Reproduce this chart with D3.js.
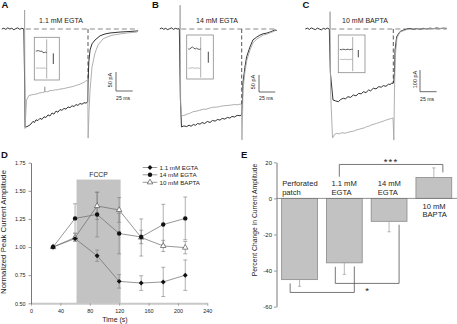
<!DOCTYPE html>
<html><head><meta charset="utf-8">
<script src="https://cdn.jsdelivr.net/npm/d3@7"></script>
<style>
html,body{margin:0;padding:0;background:#fff;}
svg{display:block;font-family:Arial,"Liberation Sans",Helvetica,sans-serif;}
</style></head><body>
<svg id="fig" width="457" height="324"></svg>
<script>
// ================= DATA =================
// Panels A-C: whole-cell current traces, [time (ms), current (pA)]
const panelLetters = ["A","B","C","D","E"];
const traceTitles = ["1.1 mM EGTA","14 mM EGTA","10 mM BAPTA"];
const pulseMs = 95;
const scaleBarMs = 25;
const scaleBarPA = [50, 50, 100];

const traceA_black = [[-34,0],[-31,2],[-28,-1],[-25,3],[-22,0],[-19,2],[-16,-2],[-13,1],[-10,3],[-7,-1],[-4,2],[-1,0],[0.3,-150],[0.8,-258],[3.7,-257],[6.7,-254],[9.7,-250],[12.7,-243],[15,-246],[17.2,-239],[20,-241],[23.2,-235],[26,-238],[29.2,-231],[32,-233],[35.2,-226],[38,-229],[41.2,-221],[44,-224],[47.2,-216],[50,-219],[53.1,-212],[56,-214],[59.1,-209],[62,-211],[65.1,-205],[68,-207],[71.1,-202],[74,-204],[77.1,-199],[80,-201],[83.1,-196],[86,-198],[89.1,-194],[92,-195],[94.5,-192],[95.3,-130],[96.3,-85],[98.1,-55],[101,-39],[105.5,-29],[113,-18],[120.5,-13],[128,-10.5],[143,-8],[158,-6.5],[170,-5]];
const traceA_gray = [[0,0],[0.15,50],[0.8,-262],[2,-220],[3,-187],[6.7,-175],[11.2,-173],[15,-172],[20,-170],[23.2,-168],[27,-167],[29.8,-166],[30.3,-152],[30.8,-165],[35,-165],[38.2,-162],[42,-162],[46,-160],[50,-160],[53.1,-158],[58,-157],[63,-155],[68.1,-153],[73,-151],[78,-148],[83.1,-145],[88,-141],[91,-138],[94.5,-134],[95.2,-287],[96.6,-213],[98.1,-160],[101,-100],[105.5,-63],[110,-42],[117.5,-26],[125,-20],[132.5,-16],[143,-13],[153.4,-10.5],[168.4,-8]];

const traceB_black = [[-31,0],[-28,3],[-25,-1],[-22,2],[-19,-2],[-16,1],[-13,3],[-10,-1],[-7,2],[-4,0],[-1,1],[0.5,-200],[2.3,-288],[6,-285],[10.3,-287],[14,-283],[17,-286],[20.5,-281],[24,-283],[27,-278],[30.8,-280],[34,-275],[38,-278],[42,-272],[46.2,-275],[50,-269],[54,-271],[58,-266],[61.5,-268],[65,-263],[69,-265],[73,-260],[76.9,-262],[80,-257],[84,-259],[88,-254],[92.3,-255],[94.6,-253],[95.5,-235],[96.5,-190],[96.9,-159],[100,-112],[102.6,-82],[107.7,-53],[112.3,-32],[118,-24],[123,-18],[128,-14],[133.8,-12],[140,-8],[146,-3],[149,-4]];
const traceB_gray = [[0,0],[0.15,70],[1,-220],[2,-253],[5,-255],[7.7,-253],[11,-250],[14,-249],[17,-246],[20.5,-243],[25,-242],[30,-239],[35.8,-236],[40,-236],[45,-233],[51.2,-230],[56,-230],[61,-228],[66.6,-226],[72,-225],[78,-224],[84,-222],[88,-223],[92.3,-221],[94.6,-221],[95.4,-326],[96.5,-230],[96.9,-179],[100,-126],[103,-91],[107.7,-62],[112.3,-41],[118,-30],[123,-24],[128,-18],[133.8,-15],[140,-10],[146,-6]];

const traceC_black = [[-37,0],[-34,4],[-31,-2],[-28,5],[-25,1],[-22,-3],[-19,4],[-16,0],[-13,-4],[-10,3],[-7,-1],[-4,4],[-1,0],[0.5,-200],[4.5,-327],[8,-331],[12.5,-335],[16,-325],[20,-319],[23,-322],[27,-312],[31,-315],[35,-304],[39,-308],[43,-297],[47,-299],[50,-289],[54,-293],[58,-281],[61,-285],[65,-273],[69,-276],[73,-266],[77,-268],[80,-261],[84,-264],[88,-254],[90,-256],[92.6,-250],[94.6,-250],[95.8,-240],[96.8,-200],[97.6,-97],[100.1,-35],[105,-12],[110,-5],[115,-1],[120,3],[125,-2],[130,2],[135,-1],[140,3],[145,0],[150,4],[155,1],[160,5],[165,2],[170,4],[175,3]];
const traceC_gray = [[0,0],[0.1,80],[1,-300],[3.8,-502],[7,-485],[10,-481],[14,-483],[18,-478],[22,-480],[25,-478],[29,-474],[33,-472],[37,-469],[40,-465],[44,-462],[48,-458],[52,-455],[55,-450],[59,-447],[63,-441],[67,-438],[70,-435],[74,-431],[78,-427],[82,-422],[85,-419],[89,-415],[92.6,-412],[94.6,-410],[95.8,-512],[96.8,-281],[98,-120],[100.6,-41],[105,-14],[115.6,-2],[125,0],[140,1],[160,2],[175,2]];

// inset mini traces (relative deflections)
const insetBlack = [[0,0,-0.4,0,0.4,0,1.6,1.6,1.2,1.6],[0,0,-1,-2,-1,0,-0.8,0,0.4,0],[0,0.5,0,0,0.5,0,0,0.5,0,0]];
const insetGray  = [[0,0,0.3,0,0,0.3,0,0,0.3,0],[0,0.3,0,-0.3,0,0.3,0,0,0.3,0],[0,0,0.4,0,0,0.4,0,0.3,0,0]];

// Panel D: normalized peak current amplitude vs time
const dTimes = [30,60,90,120,150,180,210];
const dEGTA11 = [1.00,1.075,0.923,0.695,0.68,0.69,0.75];
const dEGTA11Err = [0,0.02,0.05,0.06,0.065,0.13,0.135];
const dEGTA14 = [1.00,1.255,1.29,1.12,1.09,1.20,1.255];
const dEGTA14Err = [0,0.13,0.20,0.18,0.06,0.18,0.19];
const dBAPTA = [1.00,1.085,1.365,1.33,1.085,1.01,0.995];
const dBAPTAErr = [0,0.035,0.12,0.11,0.165,0.05,0.055];
const dLegend = ["1.1 mM EGTA","14 mM EGTA","10 mM BAPTA"];
const dYTicks = [0.50,0.75,1.00,1.25,1.50,1.75];
const dXTicks = [0,40,80,120,160,200,240];
const fccpWindow = [62,122];
const fccpTop = 1.6;

// Panel E: percent change in current amplitude
const eCategories = ["Perforated patch","1.1 mM EGTA","14 mM EGTA","10 mM BAPTA"];
const eLabelLines = [["Perforated","patch"],["1.1 mM","EGTA"],["14 mM","EGTA"],["10 mM","BAPTA"]];
const eValues = [-45, -35.7, -12.7, 11.6];
const eErrors = [3.7, 6.4, 5.8, 5.3];
const eYTicks = [20,0,-20,-40,-60];
const eBrackets = [
  {from:1,to:3,level:18.8,legFrom:12,legTo:14.4,label:"***"},
  {from:0,to:1,level:-52.1,legFrom:-47.1,legTo:-37.7,label:""},
  {from:1,to:2,level:-47.1,legFrom:-37.9,legTo:-14.6,label:"*"}
];

// ================= LAYOUT =================
const svg = d3.select("#fig");
const BLACK = "#1c1c1c", GRAY = "#a6a6a6", TXT = "#222";

const traceLayout = [
 {x0:24.5,x1:88,base:29,ppa:0.38,tEnd:170,letterX:1.5,titleX:61,sb:{x:116,y:91},paX:111.6,paY:80,msX:116,msY:100.3,
  inset:{x:34.3,y:37.3,w:25,h:42.7,vx:46.7,by:51,gy:68,bx:53.3,b0:53.3,b1:64}},
 {x0:180,x1:241.7,base:29,ppa:0.34,tEnd:149,letterX:152,titleX:217,sb:{x:259,y:92},paX:255.3,paY:82,msX:259,msY:100.3,
  inset:{x:186.7,y:35,w:26.6,h:44,vx:200.7,by:49,gy:68,bx:208.3,b0:51.7,b1:62.7}},
 {x0:330,x1:393.3,base:29,ppa:0.217,tEnd:175,letterX:302.5,titleX:365,sb:{x:420,y:91.7},paX:416.5,paY:79.5,msX:420,msY:101,
  inset:{x:338.3,y:35,w:26.7,h:37.7,vx:352.7,by:49.3,gy:59.3,bx:358.3,b0:50,b1:57.3}}
];
const traces = [[traceA_black,traceA_gray],[traceB_black,traceB_gray],[traceC_black,traceC_gray]];

function letter(t,x,y){
  svg.append("text").attr("x",x).attr("y",y).attr("font-size",9.5).attr("font-weight","bold").attr("fill","#111").text(t);
}

traceLayout.forEach((L,i)=>{
  const g = svg.append("g");
  const xs = d3.scaleLinear().domain([0,pulseMs]).range([L.x0,L.x1]);
  const ys = d3.scaleLinear().domain([0,-100]).range([L.base,L.base+100*L.ppa]);
  const line = d3.line().x(d=>xs(d[0])).y(d=>ys(d[1]));
  const [blk,gry] = traces[i];
  g.append("line").attr("x1",xs(2)).attr("x2",xs(L.tEnd)).attr("y1",ys(0)).attr("y2",ys(0))
    .attr("stroke","#8a8a8a").attr("stroke-width",1.1).attr("stroke-dasharray","5,3");
  const lastIn = tr => { const f = tr.filter(d=>d[0]<=pulseMs); return f[f.length-1][1]; };
  const endVal = d3.max([blk,gry], lastIn);
  g.append("line").attr("x1",xs(pulseMs)).attr("x2",xs(pulseMs)).attr("y1",ys(0)).attr("y2",ys(endVal))
    .attr("stroke","#555").attr("stroke-width",1).attr("stroke-dasharray","4,2.5");
  g.append("path").attr("d",line(blk)).attr("fill","none").attr("stroke",BLACK).attr("stroke-width",0.9);
  g.append("path").attr("d",line(gry)).attr("fill","none").attr("stroke",GRAY).attr("stroke-width",0.9);
  const I = L.inset;
  g.append("rect").attr("x",I.x).attr("y",I.y).attr("width",I.w).attr("height",I.h)
    .attr("fill","#fff").attr("stroke","#8a8a8a").attr("stroke-width",0.8);
  g.append("line").attr("x1",I.vx).attr("x2",I.vx).attr("y1",I.y+2).attr("y2",I.y+I.h-1.5).attr("stroke","#999").attr("stroke-width",0.8);
  const ix = d3.scaleLinear().domain([0,insetBlack[i].length-1]).range([I.x+1.5,I.vx]);
  g.append("path").attr("d",d3.line().x((d,k)=>ix(k)).y(d=>I.by+d)(insetBlack[i])).attr("fill","none").attr("stroke","#333").attr("stroke-width",0.8);
  g.append("path").attr("d",d3.line().x((d,k)=>ix(k)).y(d=>I.gy+d)(insetGray[i])).attr("fill","none").attr("stroke","#aaa").attr("stroke-width",0.8);
  g.append("line").attr("x1",I.bx).attr("x2",I.bx).attr("y1",I.b0).attr("y2",I.b1).attr("stroke","#333").attr("stroke-width",0.9);
  const msLen = xs(scaleBarMs)-xs(0), paLen = ys(0)-ys(scaleBarPA[i]);
  g.append("path").attr("d",`M${L.sb.x},${L.sb.y-paLen}V${L.sb.y}H${L.sb.x+msLen}`)
    .attr("fill","none").attr("stroke","#444").attr("stroke-width",0.8);
  g.append("text").attr("transform",`translate(${L.paX},${L.paY}) rotate(-90)`).attr("text-anchor","middle")
    .attr("font-size",5.5).attr("fill",TXT).text(scaleBarPA[i]+" pA");
  g.append("text").attr("x",L.msX).attr("y",L.msY).attr("font-size",5.2).attr("fill",TXT).text(scaleBarMs+" ms");
  g.append("text").attr("x",L.titleX).attr("y",22.5).attr("text-anchor","middle").attr("font-size",7).attr("fill",TXT).text(traceTitles[i]);
  letter(panelLetters[i],L.letterX,8);
});

// ================= PANEL D =================
{
  const g = svg.append("g");
  const x = d3.scaleLinear().domain([0,240]).range([31,207.3]);
  const y = d3.scaleLinear().domain([0.5,1.75]).range([303.3,162.7]);
  g.append("rect").attr("x",x(fccpWindow[0])).attr("width",x(fccpWindow[1])-x(fccpWindow[0]))
    .attr("y",y(fccpTop)).attr("height",y(0.5)-y(fccpTop)).attr("fill","#c3c3c3");
  g.append("text").attr("x",(x(fccpWindow[0])+x(fccpWindow[1]))/2).attr("y",176.5).attr("text-anchor","middle")
    .attr("font-size",6.8).attr("fill",TXT).text("FCCP");

  const ax = g.append("g").attr("transform",`translate(0,${y(0.5)})`)
    .call(d3.axisBottom(x).tickValues(dXTicks).tickSize(2.5).tickSizeOuter(0).tickPadding(3.5));
  ax.attr("font-size",5.4).attr("font-family",null);
  ax.select(".domain").attr("stroke","#c8c8c8").attr("stroke-width",2);
  ax.selectAll(".tick line").attr("stroke","#777").attr("stroke-width",0.6);
  ax.selectAll("text").attr("fill",TXT);
  const ay = g.append("g").attr("transform",`translate(${x(0)},0)`)
    .call(d3.axisLeft(y).tickValues(dYTicks).tickFormat(d3.format(".2f")).tickSize(2.5).tickSizeOuter(0).tickPadding(3));
  ay.attr("font-size",5.4).attr("font-family",null);
  ay.select(".domain").attr("stroke","#555").attr("stroke-width",0.8);
  ay.selectAll(".tick line").attr("stroke","#555").attr("stroke-width",0.6);
  ay.selectAll("text").attr("fill",TXT);

  g.append("text").attr("transform","translate(115,322)").attr("text-anchor","middle").attr("font-size",7).attr("fill",TXT).text("Time (s)");
  g.append("text").attr("transform",`translate(6,232) rotate(-90)`).attr("text-anchor","middle").attr("font-size",7.8).attr("fill",TXT)
    .text("Normalized Peak Current Amplitude");

  const series = [
    {v:dEGTA11,e:dEGTA11Err,sym:"diamond"},
    {v:dEGTA14,e:dEGTA14Err,sym:"circle"},
    {v:dBAPTA,e:dBAPTAErr,sym:"triangle"}
  ];
  const ERR="#7a7a7a";
  series.forEach(s=>{
    dTimes.forEach((t,k)=>{
      if(!s.e[k]) return;
      const cx=x(t), y0=y(s.v[k]-s.e[k]), y1=y(s.v[k]+s.e[k]);
      g.append("path").attr("d",`M${cx},${y0}V${y1}M${cx-2},${y0}H${cx+2}M${cx-2},${y1}H${cx+2}`)
        .attr("stroke",ERR).attr("stroke-width",0.6).attr("fill","none");
    });
  });
  const ln = d3.line().x((d,k)=>x(dTimes[k])).y(d=>y(d));
  series.forEach(s=>{
    g.append("path").attr("d",ln(s.v)).attr("fill","none").attr("stroke","#6a6a6a").attr("stroke-width",0.7);
  });
  function marker(sel,sym,cx,cy){
    if(sym==="circle") sel.append("circle").attr("cx",cx).attr("cy",cy).attr("r",2.2).attr("fill","#111");
    else if(sym==="diamond") sel.append("path").attr("d",d3.symbol().type(d3.symbolSquare).size(12)())
      .attr("transform",`translate(${cx},${cy}) rotate(45)`).attr("fill","#111");
    else sel.append("path").attr("d",d3.symbol().type(d3.symbolTriangle).size(13)())
      .attr("transform",`translate(${cx},${cy})`).attr("fill","#fff").attr("stroke","#555").attr("stroke-width",0.7);
  }
  [2,1,0].forEach(i=>{ const s=series[i]; dTimes.forEach((t,k)=>marker(g,s.sym,x(t),y(s.v[k]))); });
  const rows=[167.5,174.8,182.3];
  series.forEach((s,i)=>{
    g.append("line").attr("x1",142.7).attr("x2",157.3).attr("y1",rows[i]).attr("y2",rows[i]).attr("stroke","#6a6a6a").attr("stroke-width",0.7);
    marker(g,s.sym,150,rows[i]);
    g.append("text").attr("x",159.5).attr("y",rows[i]+2.2).attr("font-size",6.2).attr("fill",TXT).text(dLegend[i]);
  });
  letter(panelLetters[3],1,157.7);
}

// ================= PANEL E =================
{
  const g = svg.append("g");
  const x = d3.scaleBand().domain(eCategories).range([276.5,456.9]).paddingInner(0.2).paddingOuter(0.115);
  const y = d3.scaleLinear().domain([-60,20]).range([306.7,162.3]);
  const ay = g.append("g").attr("transform","translate(276.5,0)")
    .call(d3.axisLeft(y).tickValues(eYTicks).tickFormat(d=>String(d)).tickSize(2.5).tickSizeOuter(0).tickPadding(2));
  ay.attr("font-size",6).attr("font-family",null);
  ay.select(".domain").attr("stroke","#555").attr("stroke-width",0.8);
  ay.selectAll(".tick line").attr("stroke","#555").attr("stroke-width",0.6);
  ay.selectAll("text").attr("fill",TXT);
  g.append("text").attr("transform","translate(257,220) rotate(-90)").attr("text-anchor","middle").attr("font-size",6.8).attr("fill",TXT)
    .text("Percent Change in Current Amplitude");

  const labelOffset=[0.5,5,6.5,6.5];
  eCategories.forEach((c,i)=>{
    const v=eValues[i], e=eErrors[i], bx=x(c), bw=x.bandwidth(), cx=bx+bw/2;
    g.append("rect").attr("x",bx).attr("width",bw).attr("y",y(Math.max(0,v))).attr("height",Math.abs(y(v)-y(0)))
      .attr("fill","#c2c2c2").attr("stroke","#8a8a8a").attr("stroke-width",0.8);
    const tip = v<0 ? v-e : v+e;
    g.append("path").attr("d",`M${cx},${y(v)}V${y(tip)}M${cx-1.6},${y(tip)}H${cx+1.6}`)
      .attr("stroke","#999").attr("stroke-width",0.7).attr("fill","none");
    const base = v<0 ? [y(0)-12.3,y(0)-3.8] : [y(0)+10.2,y(0)+18.7];
    eLabelLines[i].forEach((t,k)=>{
      g.append("text").attr("x",bx+labelOffset[i]).attr("y",base[k]).attr("font-size",7.6).attr("fill",TXT).text(t);
    });
  });
  g.append("line").attr("x1",276.5).attr("x2",457).attr("y1",y(0)).attr("y2",y(0)).attr("stroke","#777").attr("stroke-width",0.8);
  const off=[[-5,9],[-9.4,10],[-9,10]];
  eBrackets.forEach((b,i)=>{
    const xl = x(eCategories[b.from])+x.bandwidth()/2+off[i][0];
    const xr = x(eCategories[b.to])+x.bandwidth()/2+off[i][1];
    g.append("path").attr("d",`M${xl},${y(b.legFrom)}V${y(b.level)}H${xr}V${y(b.legTo)}`)
      .attr("fill","none").attr("stroke","#555").attr("stroke-width",0.8);
    if(b.label){
      const up = b.level>0;
      g.append("text").attr("x",(xl+xr)/2).attr("y",up? y(b.level)+0.8 : y(b.level)+10.5)
        .attr("text-anchor","middle").attr("font-size",9.5).attr("letter-spacing",up?1.2:0).attr("fill",TXT).text(b.label);
    }
  });
  letter(panelLetters[4],241,158.3);
}
</script>
</body></html>
